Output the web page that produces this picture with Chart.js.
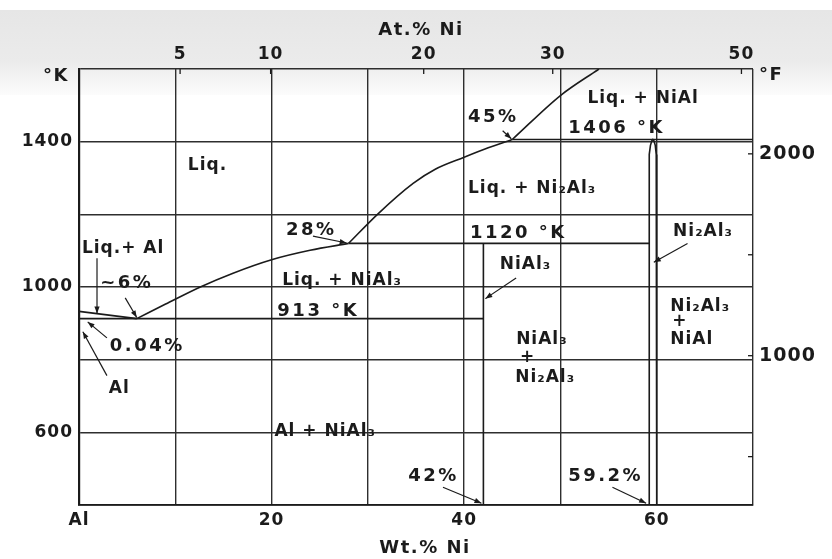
<!DOCTYPE html>
<html>
<head>
<meta charset="utf-8">
<title>Al–Ni phase diagram</title>
<script src="https://cdn.jsdelivr.net/npm/chart.js@4.4.1/dist/chart.umd.min.js"></script>
<style>
  html, body { margin: 0; padding: 0; background: #fff; }
  #wrap { width: 832px; height: 559px; }
</style>
</head>
<body>
<div id="wrap"><canvas id="c" width="832" height="559"></canvas></div>
<script>
// Aluminium-rich side of the Al–Ni equilibrium diagram.
// x: weight % Ni, y: temperature in kelvin (°F on the right, at.% Ni on top).

// axis tick labels
const wtTickValues = [0, 20, 40, 60];
const wtTickText = ['Al', '20', '40', '60'];
const atPercentText = ['5', '10', '20', '30', '50'];
const atPercentAtWt = [10.5, 19.9, 35.8, 49.2, 68.8];
const kelvinTickValues = [600, 1000, 1400];
const fahrenheitTickValues = [1000, 2000];
const fahrenheitMinorValues = [500, 1500];

// liquidus: Al melting point down to the ~6 % eutectic
const meltWt = [0, 6];
const meltK = [933, 913];
// liquidus: eutectic up to the 28 % peritectic (1120 K)
const liqAWt = [6, 9, 12.6, 16, 20, 24, 28];
const liqAK = [913, 953, 1000, 1038, 1075, 1101, 1120];
// liquidus: 28 % up to the 45 % peritectic (1406 K)
const liqBWt = [28, 31, 34.7, 37, 40, 42.5, 45];
const liqBK = [1120, 1200, 1285, 1324, 1357, 1383, 1406];
// liquidus above 45 %
const liqCWt = [45, 50, 54];
const liqCK = [1406, 1527, 1600];
// Al solid solution boundary (0.04 % at the eutectic)
const alSolidWt = [0, 0.04, 0];
const alSolidK = [933, 913, 400];
// eutectic isotherm 913 K, from 0.04 % to NiAl3 at 42 %
const eutecticWt = [0.04, 42];
const eutecticK = [913, 913];
// NiAl3 compound line
const niAl3Wt = [42, 42];
const niAl3K = [400, 1120];
// peritectic isotherm 1120 K
const peri1120Wt = [28, 59.2];
const peri1120K = [1120, 1120];
// Ni2Al3 single-phase field
const ni2Al3Wt = [59.2, 59.2, 59.25, 59.35, 59.5, 59.6, 59.7, 59.85, 59.95, 60, 60];
const ni2Al3K = [400, 1330, 1365, 1390, 1403, 1406, 1403, 1390, 1365, 1330, 400];
// peritectic isotherm 1406 K
const peri1406Wt = [45, 70];
const peri1406K = [1406, 1406];

const fontFamily = '"DejaVu Sans", "Liberation Sans", sans-serif';
const ink = '#1b1b1b';
const gridInk = '#2e2e2e';
const kToF = k => k * 9 / 5 - 459.67;

const toPoints = (xs, ys) => xs.map((x, i) => ({ x, y: ys[i] }));
function boundary(xs, ys, smooth) {
  return {
    data: toPoints(xs, ys),
    showLine: true,
    borderColor: ink,
    borderWidth: 1.6,
    pointRadius: 0,
    fill: false,
    tension: 0,
    cubicInterpolationMode: smooth ? 'monotone' : 'default'
  };
}

const datasets = [
  boundary(meltWt, meltK, false),
  boundary(liqAWt, liqAK, true),
  boundary(liqBWt, liqBK, true),
  boundary(liqCWt, liqCK, true),
  boundary(alSolidWt, alSolidK, false),
  boundary(eutecticWt, eutecticK, false),
  boundary(niAl3Wt, niAl3K, false),
  boundary(peri1120Wt, peri1120K, false),
  boundary(ni2Al3Wt, ni2Al3K, false),
  boundary(peri1406Wt, peri1406K, false)
];

// field names and point callouts, placed in (wt %, K)
const fieldLabels = [
  ['Liq.', 11.3, 1334],
  ['Liq. + NiAl', 52.8, 1518],
  ['45%', 40.4, 1466],
  ['1406 °K', 50.8, 1436],
  ['Liq. + Ni₂Al₃', 40.4, 1271],
  ['28%', 21.5, 1156],
  ['1120 °K', 40.6, 1148],
  ['Liq.+ Al', 0.3, 1107],
  ['NiAl₃', 43.7, 1063],
  ['Ni₂Al₃', 61.7, 1153],
  ['~6%', 2.2, 1011],
  ['Liq. + NiAl₃', 21.1, 1019],
  ['913 °K', 20.6, 934],
  ['0.04%', 3.2, 838],
  ['Ni₂Al₃', 61.4, 945],
  ['+', 62.4, 904],
  ['NiAl', 61.4, 855],
  ['NiAl₃', 45.4, 855],
  ['+', 46.6, 805],
  ['Ni₂Al₃', 45.3, 751],
  ['Al', 3.1, 721],
  ['Al + NiAl₃', 20.3, 603],
  ['42%', 34.2, 479],
  ['59.2%', 50.8, 479]
];

// leader arrows: tail (wt, K) -> head (wt, K)
const leaders = [
  [1.87, 1079, 1.87, 927],
  [4.8, 970, 6, 916],
  [2.9, 860, 0.9, 904],
  [2.9, 756, 0.4, 877],
  [24.3, 1140, 27.8, 1121],
  [44, 1430, 44.9, 1408],
  [45.4, 1025, 42.2, 968],
  [63.2, 1120, 59.7, 1068],
  [37.8, 449, 41.8, 405],
  [55.4, 449, 58.9, 405]
];

function drawArrow(ctx, x1, y1, x2, y2) {
  ctx.beginPath();
  ctx.moveTo(x1, y1);
  ctx.lineTo(x2, y2);
  ctx.stroke();
  const a = Math.atan2(y2 - y1, x2 - x1), L = 7, W = 2.6;
  ctx.beginPath();
  ctx.moveTo(x2, y2);
  ctx.lineTo(x2 - L * Math.cos(a) + W * Math.sin(a), y2 - L * Math.sin(a) - W * Math.cos(a));
  ctx.lineTo(x2 - L * Math.cos(a) - W * Math.sin(a), y2 - L * Math.sin(a) + W * Math.cos(a));
  ctx.closePath();
  ctx.fill();
}

const diagramDecor = {
  id: 'diagramDecor',
  beforeDraw(chart) {
    const { ctx, width, height } = chart;
    ctx.save();
    ctx.fillStyle = '#ffffff';
    ctx.fillRect(0, 0, width, height);
    const g = ctx.createLinearGradient(0, 10, 0, 95);
    g.addColorStop(0, '#e6e6e6');
    g.addColorStop(0.6, '#ebebeb');
    g.addColorStop(1, '#fcfcfc');
    ctx.fillStyle = g;
    ctx.fillRect(0, 10, width, 85);
    ctx.restore();
    ctx.letterSpacing = '1px';
  },
  afterDraw(chart) {
    const { ctx, chartArea } = chart;
    const sx = chart.scales.x, sy = chart.scales.y, sf = chart.scales.yF;
    ctx.save();
    ctx.fillStyle = ink;
    ctx.strokeStyle = ink;
    ctx.lineWidth = 1.3;

    // inward tick marks on the top and right axes
    atPercentAtWt.forEach(v => {
      const px = sx.getPixelForValue(v);
      ctx.beginPath(); ctx.moveTo(px, chartArea.top); ctx.lineTo(px, chartArea.top + 5); ctx.stroke();
    });
    [...fahrenheitMinorValues, ...fahrenheitTickValues].forEach(v => {
      const py = sf.getPixelForValue(v);
      ctx.beginPath(); ctx.moveTo(chartArea.right - 5, py); ctx.lineTo(chartArea.right, py); ctx.stroke();
    });

    // field names (numbers set a little larger and looser)
    ctx.textBaseline = 'middle';
    fieldLabels.forEach(([t, wt, k]) => {
      const numeric = /[0-9]/.test(t);
      ctx.font = numeric ? `bold 18px ${fontFamily}` : `bold 17px ${fontFamily}`;
      ctx.letterSpacing = numeric ? '2.5px' : '1px';
      ctx.textAlign = t === '+' ? 'center' : 'left';
      ctx.fillText(t, sx.getPixelForValue(wt), sy.getPixelForValue(k));
    });

    // leaders
    ctx.lineWidth = 1.2;
    leaders.forEach(([x1, y1, x2, y2]) => {
      drawArrow(ctx, sx.getPixelForValue(x1), sy.getPixelForValue(y1),
                sx.getPixelForValue(x2), sy.getPixelForValue(y2));
    });

    // axis titles and units
    const cx = (chartArea.left + chartArea.right) / 2;
    ctx.font = `bold 18px ${fontFamily}`;
    ctx.textAlign = 'center';
    ctx.letterSpacing = '1.5px';
    ctx.fillText('At.% Ni', cx + 5, 30);
    ctx.fillText('Wt.% Ni', cx + 9, 548);
    ctx.textAlign = 'left';
    ctx.fillText('°K', 43, 76);
    ctx.fillText('°F', 759, 75);
    ctx.restore();
  }
};

const tickFont = size => ({ family: fontFamily, size, weight: 'bold' });

new Chart(document.getElementById('c'), {
  type: 'scatter',
  data: { datasets },
  options: {
    responsive: false,
    animation: false,
    events: [],
    layout: { padding: 0 },
    plugins: { legend: { display: false }, tooltip: { enabled: false } },
    scales: {
      x: {
        type: 'linear', position: 'bottom', min: 0, max: 70,
        ticks: {
          stepSize: 10, autoSkip: false, maxRotation: 0, padding: 5,
          color: ink, font: tickFont(17),
          callback: v => { const i = wtTickValues.indexOf(v); return i >= 0 ? wtTickText[i] : ''; }
        },
        grid: { color: gridInk, lineWidth: 1.4, drawTicks: false },
        border: { color: ink, width: 1.8 },
        afterFit: s => { s.height = 54; }
      },
      xTop: {
        type: 'linear', position: 'top', min: 0, max: 70,
        afterBuildTicks: s => { s.ticks = atPercentAtWt.map(v => ({ value: v })); },
        ticks: {
          autoSkip: false, maxRotation: 0, padding: 4,
          color: ink, font: tickFont(17),
          callback: (v, i) => atPercentText[i]
        },
        grid: { display: false, drawTicks: false },
        border: { display: false },
        afterFit: s => { s.height = 69; }
      },
      y: {
        type: 'linear', position: 'left', min: 400, max: 1600,
        ticks: {
          stepSize: 200, autoSkip: false, padding: 6,
          color: ink, font: tickFont(17),
          callback: v => kelvinTickValues.includes(v) ? String(v) : ''
        },
        grid: { color: gridInk, lineWidth: 1.4, drawTicks: false },
        border: { color: ink, width: 2.2 },
        afterFit: s => { s.width = 79; }
      },
      yF: {
        type: 'linear', position: 'right', min: kToF(400), max: kToF(1600),
        afterBuildTicks: s => {
          s.ticks = [...fahrenheitMinorValues, ...fahrenheitTickValues]
            .sort((a, b) => a - b).map(v => ({ value: v }));
        },
        ticks: {
          autoSkip: false, padding: 6,
          color: ink, font: tickFont(19),
          callback: v => fahrenheitTickValues.includes(v) ? String(v) : ''
        },
        grid: { display: false, drawTicks: false },
        border: { display: false },
        afterFit: s => { s.width = 79; }
      }
    }
  },
  plugins: [diagramDecor]
});
</script>
</body>
</html>
